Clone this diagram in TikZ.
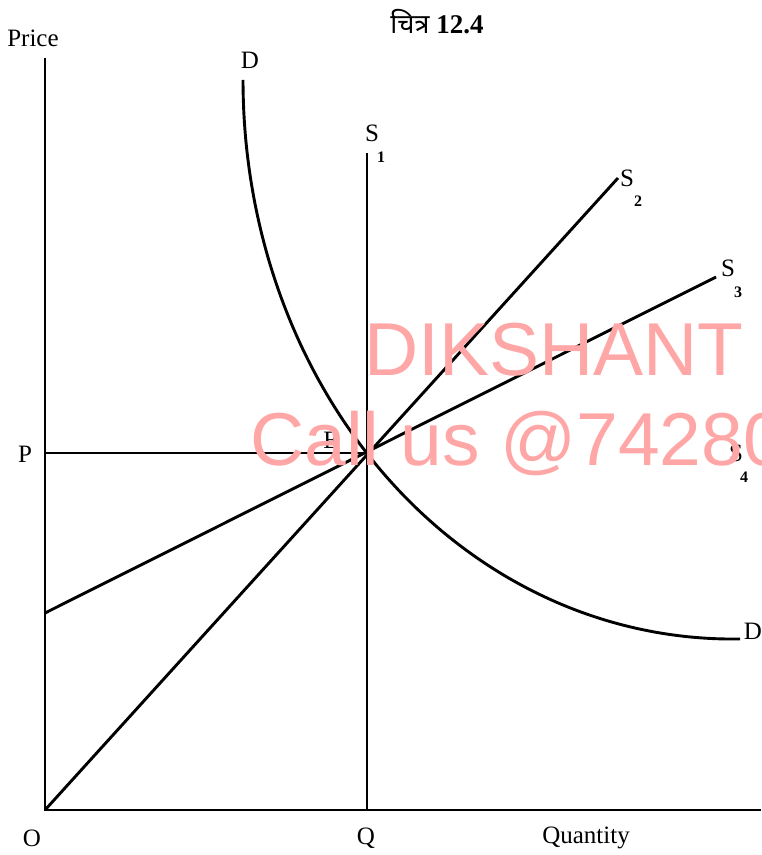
\documentclass[tikz,border=0pt]{standalone}
\usepackage{fontspec}
\setmainfont{Liberation Serif}
\newfontfamily\wmfont{Liberation Sans}
\newfontfamily\devfont[Script=Devanagari]{Noto Sans}
\begin{document}
\begin{tikzpicture}[x=0.5pt,y=-0.5pt,
  curve/.style={line width=1.45pt,black},
  lbl/.style={font=\fontsize{12.5}{14}\selectfont,inner sep=0pt},
  sub/.style={font=\fontsize{8}{9}\selectfont\bfseries,inner sep=0pt},
  wm/.style={font=\wmfont\fontsize{37.5}{40}\selectfont,text=red!35,anchor=base west,inner sep=0pt}]
\useasboundingbox (0,0) rectangle (761,855);
% coordinates
\coordinate (O) at (45,810);
\coordinate (Ytop) at (45,58);
\coordinate (Xend) at (761,810);
\coordinate (E) at (367,453);
\coordinate (Pax) at (45,453);
\coordinate (Qax) at (367,810);
\coordinate (S1top) at (367,153);
\coordinate (S2top) at (618,178);
\coordinate (S3start) at (45,613);
\coordinate (S3top) at (716,277);
% axes
\draw[curve] (Ytop) -- (O) -- (Xend);
% price line
\draw[curve] (Pax) -- (E);
% supply curves
\draw[curve] (Qax) -- (S1top);
\draw[curve] (O) -- (S2top);
\draw[curve] (S3start) -- (S3top);
% demand curve
\draw[curve] plot[domain=0:90,samples=120,smooth] ({740-497*cos(\x)},{80+559*sin(\x)+4*sin(2*\x)});
% labels
\node[lbl] (price) at (33,38) {Price};
\node[font=\fontsize{13.5}{15}\selectfont\bfseries,inner sep=0pt] (title) at (437,22) {{\devfont चित्र} 12.4};
\node[lbl] (Dtop) at (250,60) {D};
\node[lbl] (Dbot) at (753,631) {D};
\node[lbl] (s1) at (372,133) {S};
\node[sub] (s1n) at (381,157) {1};
\node[lbl] (s2) at (627,178) {S};
\node[sub] (s2n) at (638,201) {2};
\node[lbl] (s3) at (728,268) {S};
\node[sub] (s3n) at (738,292) {3};
\node[lbl] (s4) at (736,453) {S};
\node[sub] (s4n) at (744,477) {4};
\node[lbl] (elbl) at (331,440) {E};
\node[lbl] (plbl) at (25,454) {P};
\node[lbl] (olbl) at (32,838) {O};
\node[lbl] (qlbl) at (366,838) {Q};
\node[lbl] (quant) at (586,838) {Quantity};
% watermark
\begin{scope}
\clip (0,0) rectangle (761,855);
\node[wm] (wm1) at (364,375) {DIKSHANT};
\node[wm] (wm2) at (250,465) {Call us @7428000000};
\end{scope}
\end{tikzpicture}
\end{document}
